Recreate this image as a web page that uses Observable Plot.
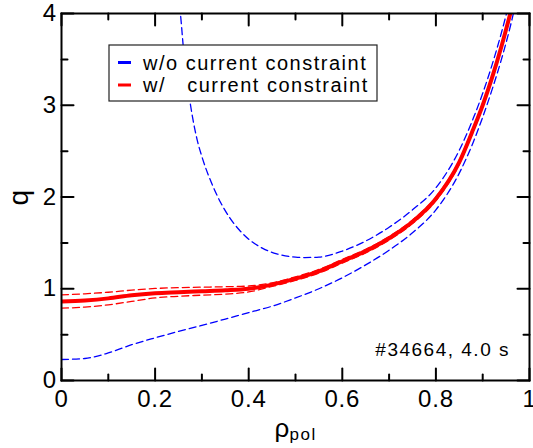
<!DOCTYPE html>
<html>
<head>
<meta charset="utf-8">
<script src="https://cdn.jsdelivr.net/npm/d3@7"></script>
<script src="https://cdn.jsdelivr.net/npm/@observablehq/plot@0.6"></script>
<style>
  body { margin: 0; background: white; }
  svg text { letter-spacing: 1.5px; }
  g[aria-label="x-axis tick label"] text, g[aria-label="y-axis tick label"] text { letter-spacing: 0.8px; }
</style>
</head>
<body>
<div id="chart"></div>
<script>
// ---- data ----
const rhoRed = [0, 0.05, 0.1, 0.15, 0.2, 0.25, 0.3, 0.35, 0.4, 0.45, 0.5, 0.55, 0.6, 0.65, 0.7, 0.75, 0.8, 0.85, 0.88, 0.9, 0.92, 0.94, 0.96, 0.97];
const qRed   = [0.86, 0.872, 0.895, 0.93, 0.952, 0.963, 0.973, 0.983, 1.0, 1.045, 1.11, 1.19, 1.30, 1.41, 1.55, 1.73, 1.98, 2.38, 2.74, 3.0, 3.3, 3.64, 4.02, 4.22];
const qRedUp = [0.934, 0.945, 0.962, 0.985, 1.003, 1.012, 1.017, 1.022, 1.03, 1.065, 1.13, 1.21, 1.32, 1.43, 1.57, 1.75, 2.0, 2.40, 2.76, 3.02, 3.32, 3.66, 4.04, 4.24];
const qRedLo = [0.788, 0.8, 0.825, 0.862, 0.9, 0.918, 0.93, 0.942, 0.965, 1.025, 1.09, 1.17, 1.28, 1.39, 1.53, 1.71, 1.96, 2.36, 2.72, 2.98, 3.28, 3.62, 4.0, 4.2];

const rhoBlueUp = [0.246, 0.254, 0.26, 0.27, 0.28, 0.29, 0.3, 0.32, 0.34, 0.36, 0.38, 0.4, 0.43, 0.46, 0.5, 0.52, 0.55, 0.6, 0.65, 0.7, 0.75, 0.8, 0.85, 0.88, 0.9, 0.92, 0.94, 0.952, 0.96];
const qBlueUp   = [4.2, 4.0, 3.65, 3.2, 2.87, 2.62, 2.44, 2.16, 1.94, 1.77, 1.64, 1.54, 1.44, 1.38, 1.345, 1.34, 1.345, 1.41, 1.52, 1.67, 1.86, 2.10, 2.51, 2.86, 3.13, 3.44, 3.79, 4.02, 4.17];

const rhoBlueLo = [0, 0.05, 0.1, 0.15, 0.2, 0.25, 0.3, 0.35, 0.4, 0.45, 0.5, 0.55, 0.6, 0.65, 0.7, 0.75, 0.8, 0.85, 0.88, 0.9, 0.92, 0.94, 0.96, 0.97];
const qBlueLo   = [0.229, 0.24, 0.3, 0.39, 0.465, 0.535, 0.6, 0.67, 0.74, 0.81, 0.9, 1.0, 1.12, 1.26, 1.42, 1.61, 1.86, 2.26, 2.6, 2.87, 3.17, 3.5, 3.88, 4.1];

const xMajor = [0, 0.2, 0.4, 0.6, 0.8, 1];
const xMinor = [0.1, 0.3, 0.5, 0.7, 0.9];
const xTickLabels = ["0", "0.2", "0.4", "0.6", "0.8", "1"];
const yMajor = [0, 1, 2, 3, 4];
const yMinor = [0.5, 1.5, 2.5, 3.5];
const yTickLabels = ["0", "1", "2", "3", "4"];

const seriesNames = ["w/o current constraint", "w/\u00a0\u00a0\u00a0current constraint"];
const seriesColors = ["#0000ff", "#ff0000"];
const annotation = "#34664, 4.0 s";
const yLabel = "q";
const xLabelMain = "\u03c1";
const xLabelSub = "pol";

// ---- build tables ----
const toRows = (xs, ys) => xs.map((x, i) => ({x, y: ys[i]}));
const red = toRows(rhoRed, qRed);
const redUp = toRows(rhoRed, qRedUp);
const redLo = toRows(rhoRed, qRedLo);
const blueUp = toRows(rhoBlueUp, qBlueUp);
const blueLo = toRows(rhoBlueLo, qBlueLo);

const tickShape = {draw(ctx, l) { ctx.moveTo(0, 0); ctx.lineTo(0, -l); }};
const tickOpts = {anchor: "start", shape: tickShape, stroke: "black", strokeWidth: 2};
const MAJ = 12, MIN = 6;

const dashed = {x: "x", y: "y", strokeWidth: 1.3, strokeDasharray: "7,4", curve: "monotone-x", clip: true};

const chart = Plot.plot({
  width: 533,
  height: 448,
  marginLeft: 61,
  marginRight: 4,
  marginTop: 13,
  marginBottom: 68,
  x: {domain: [0, 1], label: null},
  y: {domain: [0, 4], label: null},
  style: {fontFamily: "'Liberation Sans', Arial, sans-serif", background: "white", color: "black"},
  marks: [
    Plot.line(blueUp, {...dashed, stroke: seriesColors[0]}),
    Plot.line(blueLo, {...dashed, stroke: seriesColors[0]}),
    Plot.line(redUp, {...dashed, stroke: seriesColors[1]}),
    Plot.line(redLo, {...dashed, stroke: seriesColors[1]}),
    Plot.line(red, {x: "x", y: "y", stroke: seriesColors[1], strokeWidth: 4, curve: "monotone-x", clip: true}),
    Plot.frame({stroke: "black", strokeWidth: 2}),
    // inward ticks on all four sides
    Plot.vector(xMajor, {x: d => d, y: 0, length: MAJ, rotate: 0, ...tickOpts}),
    Plot.vector(xMinor, {x: d => d, y: 0, length: MIN, rotate: 0, ...tickOpts}),
    Plot.vector(xMajor, {x: d => d, y: 4, length: MAJ, rotate: 180, ...tickOpts}),
    Plot.vector(xMinor, {x: d => d, y: 4, length: MIN, rotate: 180, ...tickOpts}),
    Plot.vector(yMajor, {x: 0, y: d => d, length: MAJ, rotate: 90, ...tickOpts}),
    Plot.vector(yMinor, {x: 0, y: d => d, length: MIN, rotate: 90, ...tickOpts}),
    Plot.vector(yMajor, {x: 1, y: d => d, length: MAJ, rotate: -90, ...tickOpts}),
    Plot.vector(yMinor, {x: 1, y: d => d, length: MIN, rotate: -90, ...tickOpts}),
    Plot.axisX(xMajor, {tickSize: 0, tickPadding: 9, fontSize: 24, label: null,
      tickFormat: d => xTickLabels[xMajor.indexOf(d)]}),
    Plot.axisY(yMajor, {tickSize: 0, tickPadding: 4.5, fontSize: 24, label: null,
      tickFormat: d => yTickLabels[yMajor.indexOf(d)]}),
    Plot.text([yLabel], {frameAnchor: "left", dx: -34, rotate: -90, lineAnchor: "bottom", textAnchor: "middle", fontSize: 28, fill: "black"}),
    Plot.text([xLabelMain], {frameAnchor: "bottom", dx: -21, dy: 56.5, lineAnchor: "bottom", textAnchor: "start", fontSize: 26, fill: "black"}),
    Plot.text([xLabelSub], {frameAnchor: "bottom", dx: -6, dy: 59.5, lineAnchor: "bottom", textAnchor: "start", fontSize: 17, fill: "black"}),
    Plot.text([annotation], {frameAnchor: "bottom-right", dx: -19.5, dy: -25, lineAnchor: "bottom", textAnchor: "end", fontSize: 19, fill: "black"})
  ]
});

// ---- legend box inside the plot area ----
const svg = d3.select(chart);
const lg = svg.append("g").attr("class", "legend");
lg.append("rect").attr("x", 109).attr("y", 45).attr("width", 268).attr("height", 56)
  .attr("fill", "white").attr("stroke", "#222").attr("stroke-width", 1.2);
seriesNames.forEach((name, i) => {
  const yc = 62.5 + i * 22.5;
  lg.append("line").attr("x1", 118).attr("x2", 131).attr("y1", yc).attr("y2", yc)
    .attr("stroke", seriesColors[i]).attr("stroke-width", 3);
  lg.append("text").attr("x", 143).attr("y", yc + 7.3)
    .attr("text-anchor", "start").attr("font-size", 20).attr("fill", "black").text(name);
});

document.getElementById("chart").appendChild(chart);
</script>
</body>
</html>
